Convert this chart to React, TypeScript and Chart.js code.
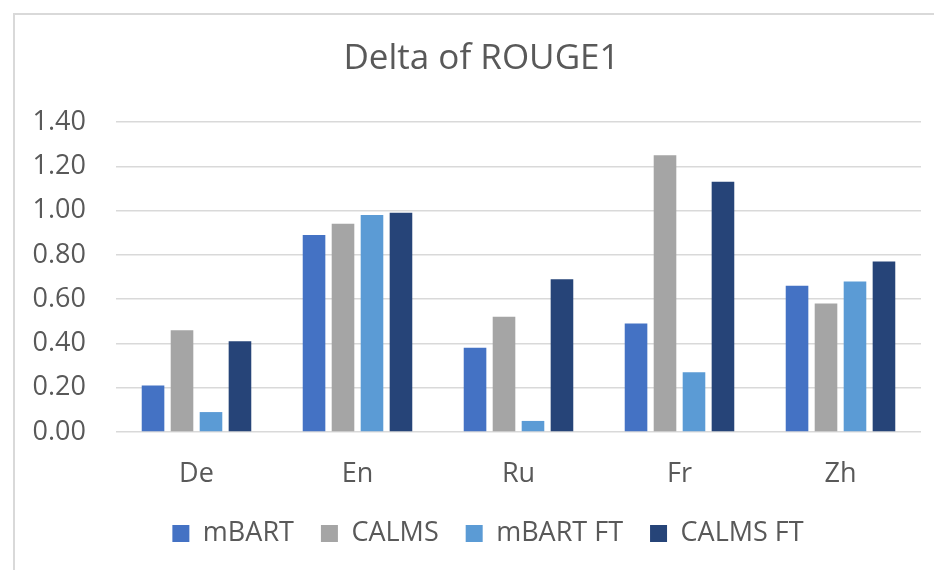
import React, { useEffect, useRef } from "react";
import { Chart, registerables } from "chart.js";

Chart.register(...registerables);

const categories = ["De", "En", "Ru", "Fr", "Zh"];
const seriesNames = ["mBART", "CALMS", "mBART FT", "CALMS FT"];
const mbart = [0.21, 0.89, 0.38, 0.49, 0.66];
const calms = [0.46, 0.94, 0.52, 1.25, 0.58];
const mbartFt = [0.09, 0.98, 0.05, 0.27, 0.68];
const calmsFt = [0.41, 0.99, 0.69, 1.13, 0.77];
const seriesColors = ["#4472C4", "#A5A5A5", "#5B9BD5", "#264478"];
const titleText = "Delta of ROUGE1";

const FONT = "'Open Sans', 'Noto Sans', sans-serif";
const TEXT = "#595959";

// shifts the title and legend boxes so they are centred as in the reference
const boxShift = {
  id: "boxShift",
  afterLayout(chart: any) {
    if (chart.titleBlock) chart.titleBlock.left = 42;
    if (chart.legend) chart.legend.left = 55;
  },
};

export default function App() {
  const ref = useRef<HTMLCanvasElement>(null);
  useEffect(() => {
    if (!ref.current) return;
    const values = [mbart, calms, mbartFt, calmsFt];
    const chart = new Chart(ref.current, {
      type: "bar",
      data: {
        labels: categories,
        datasets: seriesNames.map((name, i) => ({
          label: name,
          data: values[i],
          backgroundColor: seriesColors[i],
          borderWidth: 0,
          categoryPercentage: 0.72,
          barPercentage: 0.78,
        })),
      },
      plugins: [boxShift],
      options: {
        animation: false,
        responsive: false,
        maintainAspectRatio: false,
        layout: { padding: { left: 0, right: 13, top: 0, bottom: 13 } },
        plugins: {
          title: {
            display: true,
            text: titleText,
            color: TEXT,
            font: { family: FONT, size: 35, weight: "normal" },
            padding: { top: 38, bottom: 42 },
          },
          legend: {
            position: "bottom",
            labels: {
              color: TEXT,
              font: { family: FONT, size: 27 },
              boxWidth: 17,
              boxHeight: 17,
              padding: 27,
            },
          },
          tooltip: { enabled: false },
        },
        scales: {
          x: {
            grid: { display: false },
            border: { display: false },
            ticks: {
              color: TEXT,
              font: { family: FONT, size: 27 },
              padding: 18,
            },
            afterFit: (s: any) => {
              s.height = 61;
            },
          },
          y: {
            min: 0,
            max: 1.4,
            border: { display: false },
            grid: { color: "#d9d9d9", lineWidth: 1.5, drawTicks: false },
            ticks: {
              stepSize: 0.2,
              color: TEXT,
              font: { family: FONT, size: 27 },
              padding: 30,
              callback: (v: any) => Number(v).toFixed(2),
            },
            afterFit: (s: any) => {
              s.width = 116;
            },
          },
        },
      },
    });
    return () => chart.destroy();
  }, []);
  return (
    <div
      style={{
        position: "fixed",
        left: 0,
        top: 0,
        width: 934,
        height: 570,
        background: "#ffffff",
        overflow: "hidden",
      }}
    >
      <div
        style={{
          position: "absolute",
          left: 13,
          top: 13,
          width: 940,
          height: 600,
          border: "2px solid #d9d9d9",
        }}
      />
      <canvas
        ref={ref}
        width={934}
        height={570}
        style={{ position: "absolute", left: 0, top: 0, width: 934, height: 570 }}
      />
    </div>
  );
}
